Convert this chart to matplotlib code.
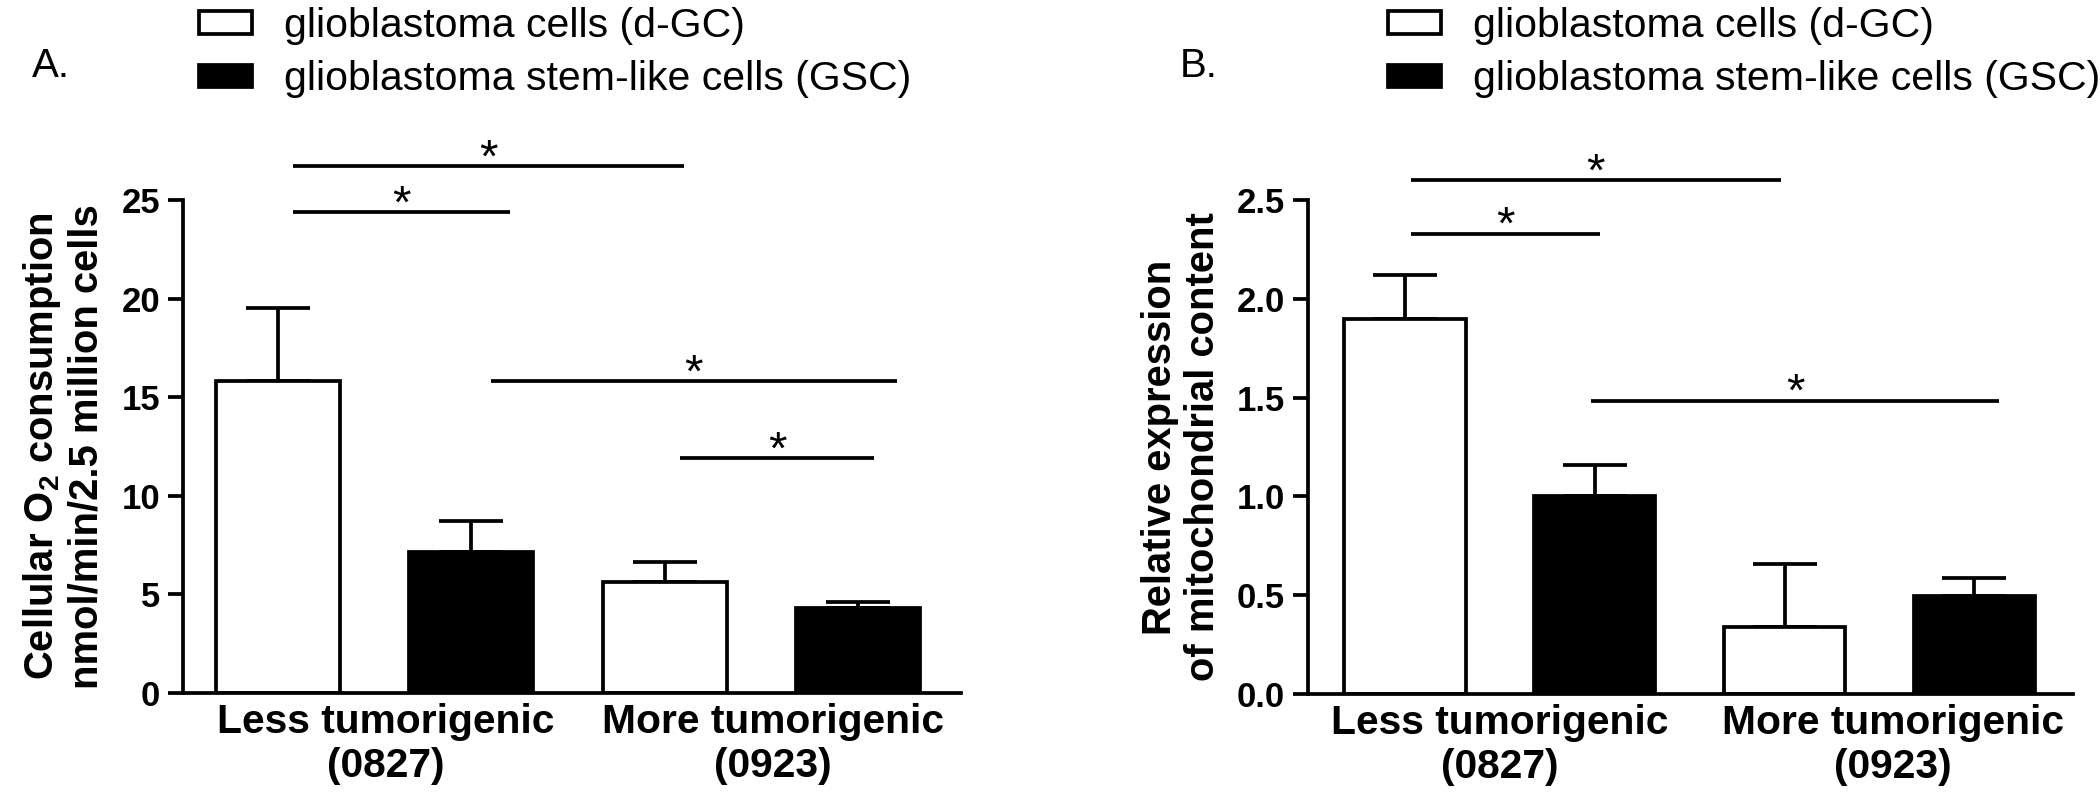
import matplotlib
matplotlib.use("Agg")
import matplotlib.pyplot as plt
from matplotlib.patches import Patch

plt.rcParams['font.family'] = ['Liberation Sans', 'DejaVu Sans']
plt.rcParams['mathtext.fontset'] = 'custom'
plt.rcParams['mathtext.rm'] = 'Liberation Sans'
plt.rcParams['mathtext.bf'] = 'Liberation Sans:bold'

# data
groups = ["Less tumorigenic\n(0827)", "More tumorigenic\n(0923)"]
series = ["glioblastoma cells (d-GC)", "glioblastoma stem-like cells (GSC)"]
bar_colors = ["white", "black", "white", "black"]

o2_mean = [15.8, 7.15, 5.65, 4.3]
o2_err = [3.7, 1.55, 1.0, 0.3]
mito_mean = [1.90, 1.00, 0.34, 0.495]
mito_err = [0.22, 0.16, 0.32, 0.09]

# significance brackets: (x start, x end, height)
o2_sig = [(0.08, 1.2, 24.4), (0.08, 2.1, 26.7), (1.1, 3.2, 15.8), (2.08, 3.08, 11.9)]
mito_sig = [(0.03, 1.03, 2.33), (0.03, 1.98, 2.60), (0.98, 3.13, 1.485)]

LW = 2.7


def panel(ax, means, errs, sigs, yticks, ylabel, xlim, tickpos):
    x = range(len(means))
    ax.bar(x, means, width=0.64, color=bar_colors, edgecolor="black", linewidth=LW, zorder=2)
    ax.errorbar(x, means, yerr=[[0] * len(errs), errs], fmt="none", ecolor="black",
                elinewidth=LW, capsize=23, capthick=LW, zorder=1)
    ax.set_xlim(*xlim)
    ax.set_ylim(yticks[0], yticks[-1])
    ax.set_yticks(yticks)
    ax.set_xticks(tickpos)
    ax.set_xticklabels(groups, fontsize=29.3, fontweight="bold", linespacing=1.2)
    ax.tick_params(axis="x", length=0, pad=7)
    ax.tick_params(axis="y", length=10.5, width=LW, pad=6, labelsize=25)
    for lab in ax.get_yticklabels():
        lab.set_fontweight("bold")
    ax.spines["top"].set_visible(False)
    ax.spines["right"].set_visible(False)
    ax.spines["left"].set_linewidth(LW)
    ax.spines["bottom"].set_linewidth(LW)
    ax.set_ylabel(ylabel, fontsize=28.8, fontweight="bold", linespacing=1.15)
    for x0, x1, h in sigs:
        ax.plot([x0, x1], [h, h], color="black", lw=LW, clip_on=False, solid_capstyle="butt")
        ax.annotate("*", ((x0 + x1) / 2, h), xytext=(0, -4), textcoords="offset points",
                    ha="center", va="baseline", fontsize=34, annotation_clip=False)


fig = plt.figure(figsize=(21, 7.98), dpi=100)
axA = fig.add_axes([0.0871, 0.1316, 0.3705, 0.6178])
axB = fig.add_axes([0.6229, 0.1303, 0.3643, 0.6191])

panel(axA, o2_mean, o2_err, o2_sig, [0, 5, 10, 15, 20, 25],
      "Cellular O$_{\\mathbf{2}}$ consumption\nnmol/min/2.5 million cells",
      (-0.49, 3.53), [0.56, 2.56])
axA.yaxis.set_label_coords(-0.0996, 0.5)

panel(axB, mito_mean, mito_err, mito_sig, [0.0, 0.5, 1.0, 1.5, 2.0, 2.5],
      "Relative expression\nof mitochondrial content",
      (-0.51, 3.52), [0.5, 2.57])
axB.set_yticklabels(["0.0", "0.5", "1.0", "1.5", "2.0", "2.5"], fontweight="bold")
axB.yaxis.set_label_coords(-0.113, 0.5)

handles = [Patch(facecolor="white", edgecolor="black", linewidth=LW),
           Patch(facecolor="black", edgecolor="black", linewidth=LW)]
for ax, letter, lx, gx in [(axA, "A.", 0.015, 0.087), (axB, "B.", 0.562, 0.653)]:
    fig.text(lx, 0.917, letter, fontsize=29, va="center")
    fig.legend(handles, series, loc="upper left", bbox_to_anchor=(gx, 1.012),
               frameon=False, fontsize=29.5, handlelength=1.3, handleheight=0.47,
               handletextpad=0.78, labelspacing=0.38, borderaxespad=0)

fig.savefig("out.png", dpi=100)
